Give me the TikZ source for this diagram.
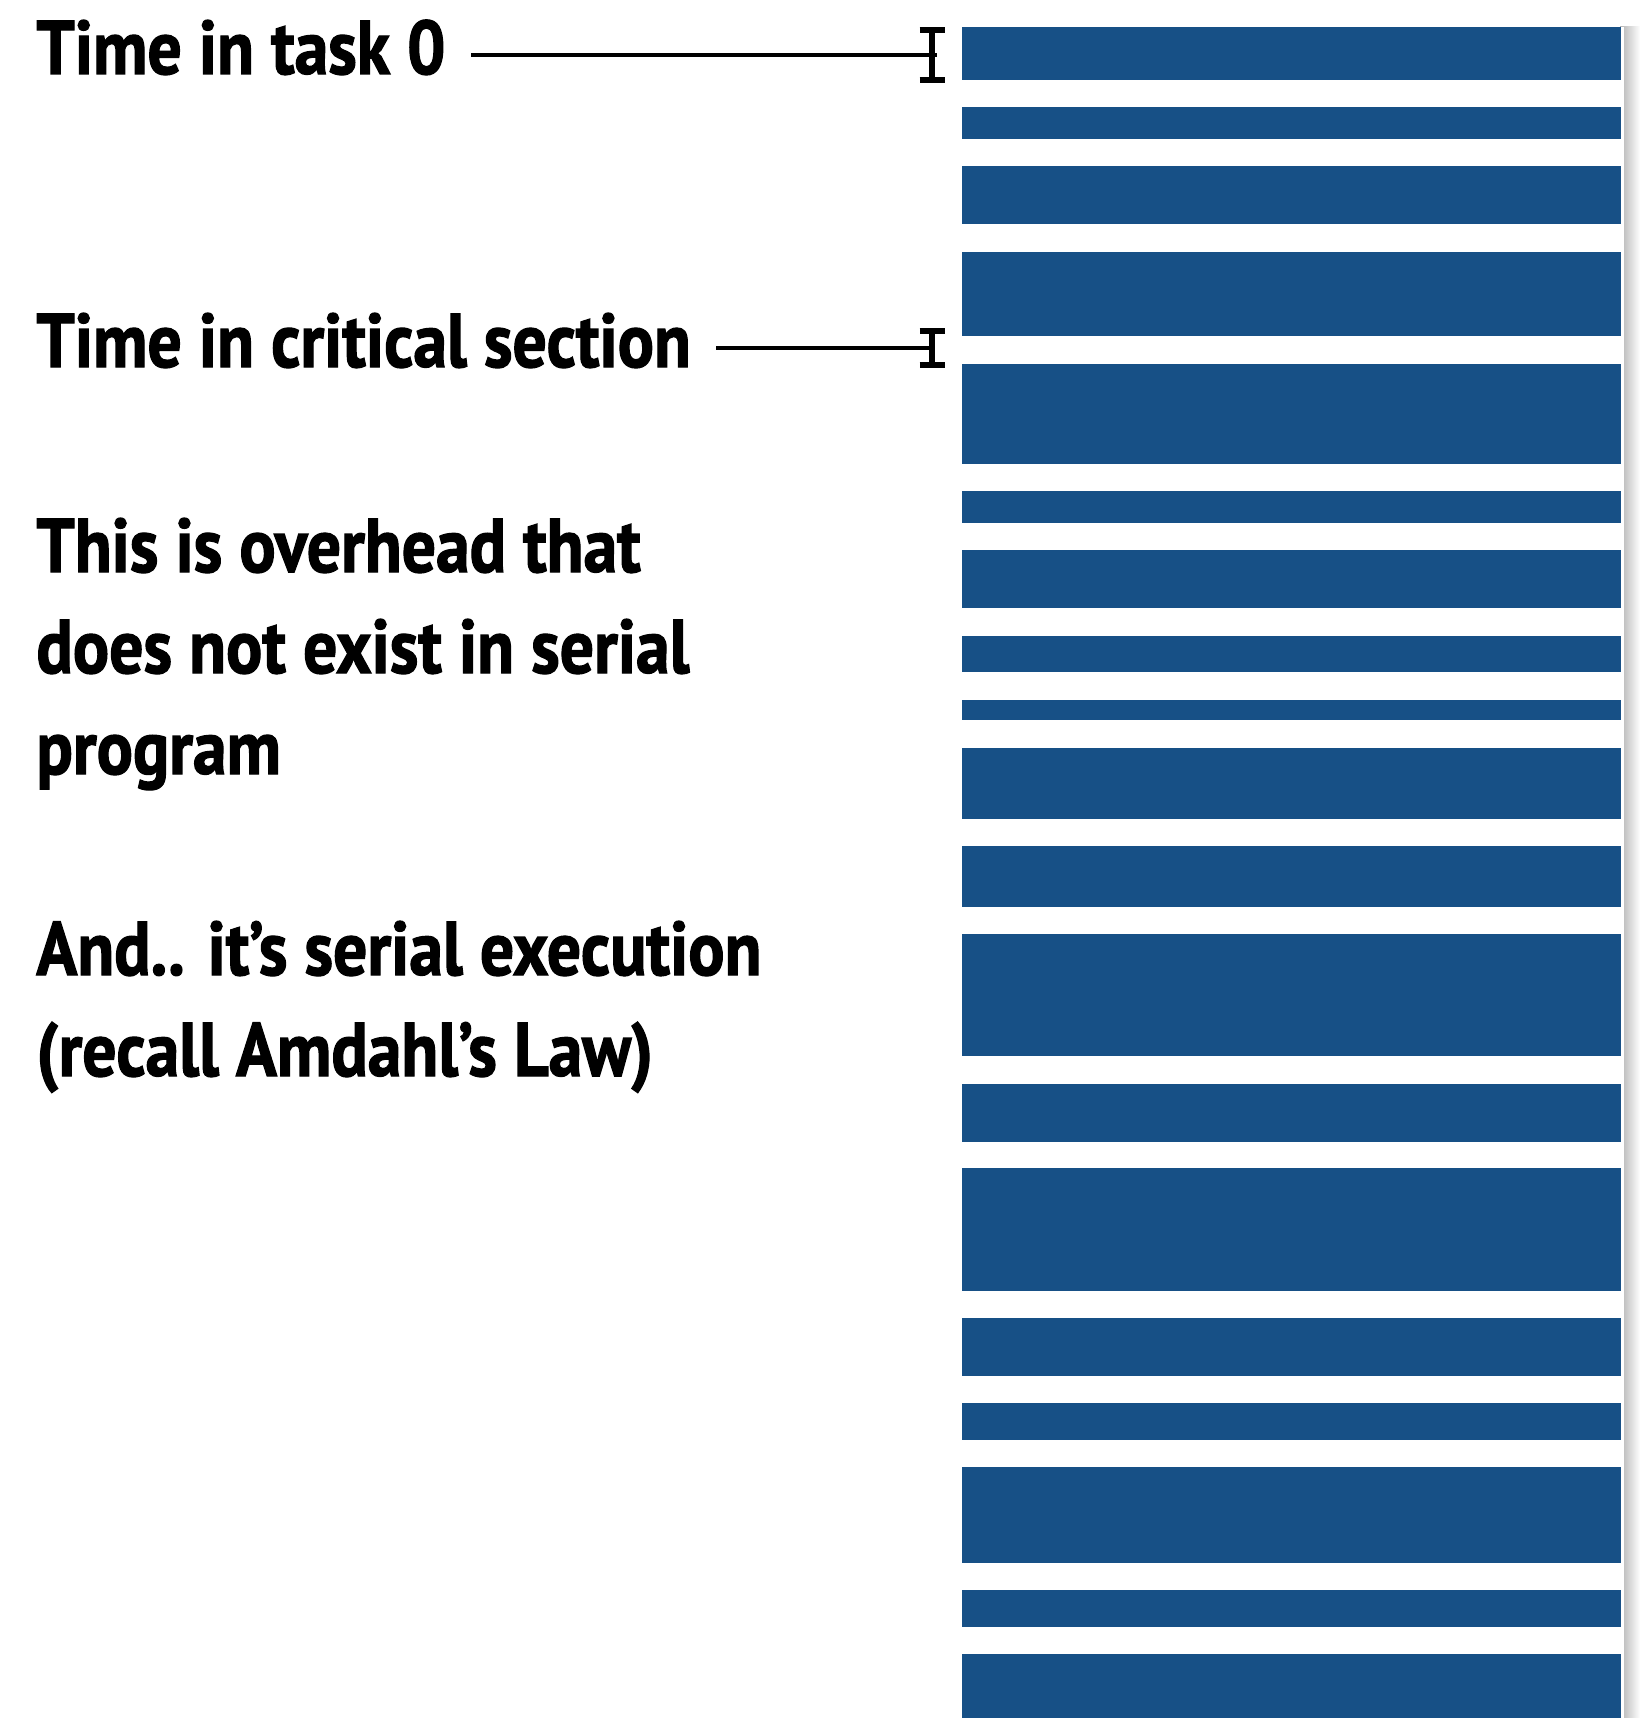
\documentclass[tikz,border=0pt]{standalone}
\usepackage{fontspec}
\setmainfont{PT Sans}[FakeStretch=0.89,FakeBold=1.6]
\usepackage{tikz}
\usetikzlibrary{calc}
\definecolor{barblue}{RGB}{23,80,134}

\begin{document}
\begin{tikzpicture}[
    x=0.5pt,y=-0.5pt,
    lbl/.style={anchor=base west,inner sep=0pt,align=left,
                font=\fontsize{38}{50.5}\selectfont\bfseries},
    lead/.style={line width=2.3pt,black},
    tick/.style={line width=2.6pt,black},
    bar/.style={fill=barblue,draw=none},
    pics/ibeam/.style={code={
        \draw[tick] (-12.5,-#1) -- (12.5,-#1) (0,-#1) -- (0,#1)
                    (-12.5,#1) -- (12.5,#1);}},
  ]
    \useasboundingbox[fill=white] (0,0) rectangle (1640,1718);
    % column with its shadow
    \shade[left color=black!30,right color=white] (1620,27) rectangle (1640,1718);
    \fill[white] (962,27) rectangle (1624,1718);
    \foreach \t/\b in {27/80,107/139,166/224,252/336,364/464,491/523,
                       550/608,636/672,700/720,748/819,846/907,934/1056,
                       1084/1142,1168/1291,1318/1376,1403/1440,1467/1563,
                       1590/1627,1654/1718}
      \path[bar] (962,\t) rectangle (1621,\b);
    % labels (base = last line)
    \node[lbl] (task) at (36,74) {Time in task 0};
    \node[lbl] (crit) at (36,367) {Time in critical section};
    \node[lbl] (ovhd) at (36,774) {This is overhead that\\does not exist in serial\\program};
    \node[lbl] (amdahl) at (36,1076) {And.. it’s serial execution\\(recall Amdahl’s Law)};
    % markers
    \coordinate (m0) at (932,55);
    \coordinate (mc) at (932,348);
    \coordinate (s0) at (471,55);
    \coordinate (sc) at (716,348);
    \pic at (m0) {ibeam=25};
    \pic at (mc) {ibeam=17};
    \draw[lead] (s0) -- ([xshift=2.5pt]m0);
    \draw[lead] (sc) -- (mc);
  \end{tikzpicture}
\end{document}
